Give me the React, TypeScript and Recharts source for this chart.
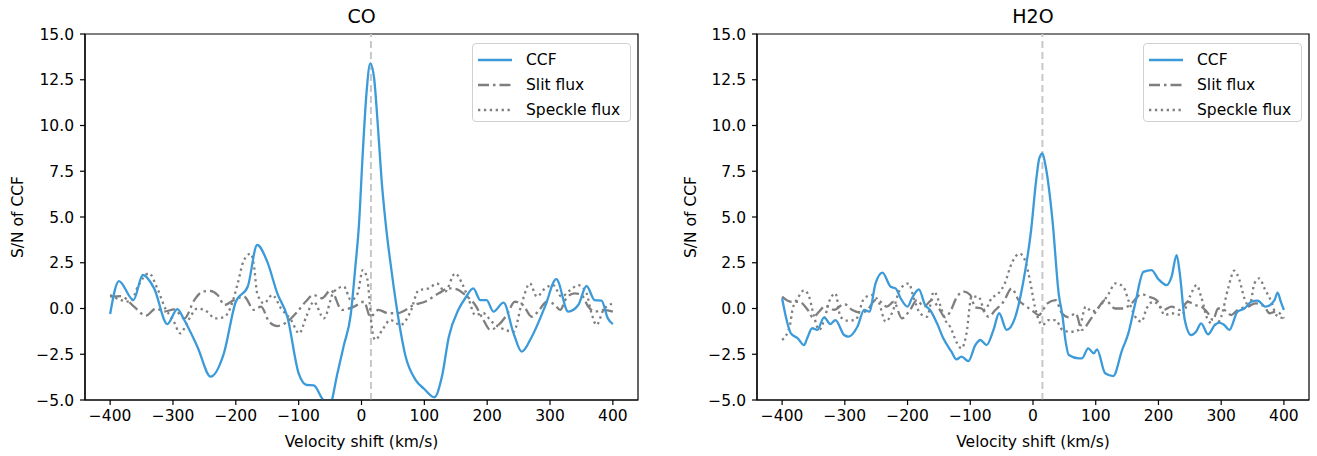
import React from "react";
import { LineChart, Line, XAxis, YAxis, ReferenceLine, ReferenceArea } from "recharts";

// velocity shift (km/s), S/N pairs
const coCcf = [
  [-400, -0.3], [-386, 1.5], [-363, 0.46], [-348, 1.83], [-330, 1.1], [-309, -0.85],
  [-293, -0.03], [-282, -0.63], [-261, -2.1], [-240, -3.72], [-219, -2.45], [-200, 0.37],
  [-181, 1.2], [-166, 3.47], [-150, 2.56], [-134, 0.83], [-118, -0.45], [-100, -3.54],
  [-87, -4.18], [-76, -4.2], [-63, -4.9], [-52, -5.4], [-38, -3.5], [-28, -2.0],
  [-17, -0.3], [-10, 2.2], [-4, 4.6], [2, 8.5], [8, 11.8], [14, 13.4], [20, 12.6],
  [26, 10], [32, 7], [38, 4.8], [48, 2], [59, -0.6], [70, -2.6], [86, -3.9], [100, -4.4],
  [116, -4.85], [128, -3.72], [139, -1.54], [154, -0.08], [165, 0.56], [178, 1.1],
  [189, 0.46], [199, 0.46], [210, -0.17], [226, 0.32], [242, -1.36], [255, -2.36],
  [271, -1.54], [292, 0.1], [310, 1.6], [329, -0.17], [345, 0.19], [358, 1.23],
  [371, 0.46], [382, 0.43], [392, -0.54], [400, -0.85],
];

const coSlit = [
  [-400, 0.65], [-383, 0.68], [-362, 0.1], [-343, -0.39], [-327, 0], [-314, -0.17],
  [-298, -0.05], [-282, -0.54], [-266, 0.46], [-253, 0.92], [-242, 0.96], [-229, 0.74],
  [-218, 0.19], [-203, 0.46], [-187, 0.65], [-171, -0.08], [-160, 0.1], [-147, -0.72],
  [-134, -0.96], [-118, -0.72], [-102, -0.17], [-89, 0.37], [-76, 0.74], [-63, 0.56],
  [-49, 1.0], [-31, -0.08], [-12, 0.1], [4, 0.37], [14, -0.45], [27, -0.08], [43, -0.26],
  [57, -0.26], [70, -0.08], [83, 0.19], [101, 0.37], [123, 0.83], [139, 1.1], [152, 1.05],
  [165, 0.74], [181, 0.19], [194, -0.63], [205, -1.17], [218, -0.9], [231, -0.36],
  [244, 0.37], [257, 0.19], [271, -0.45], [281, -0.17], [295, 0.37], [308, 0.19],
  [316, -0.08], [326, 0.56], [339, 0.83], [350, 0.74], [361, 0.1], [371, -0.17],
  [385, -0.08], [400, -0.17],
];

const coSpeckle = [
  [-400, 0.74], [-383, 0.46], [-367, 0.37], [-356, 1.19], [-338, 1.92], [-325, 1.1],
  [-311, -0.08], [-301, -0.54], [-288, -1.36], [-277, -0.72], [-261, 0], [-246, -0.17],
  [-233, -0.54], [-219, -0.48], [-206, 0.28], [-197, 1.37], [-187, 2.65], [-176, 3.0],
  [-171, 2.3], [-166, 0.83], [-155, 0.28], [-142, 0.74], [-128, 0], [-112, -0.63],
  [-99, -1.36], [-88, -0.45], [-76, 0.37], [-60, -0.54], [-44, 0.92], [-28, 1.2],
  [-17, 0.46], [-6, 0.83], [2, 2.1], [9, 1.65], [17, -1.17], [22, -1.72], [33, -1.17],
  [46, -0.63], [62, -0.9], [78, -0.17], [91, 1.0], [107, 1.1], [120, 1.37], [133, 0.92],
  [149, 1.92], [160, 1.37], [170, 0.56], [181, -0.36], [194, -0.26], [207, -0.72],
  [223, -1.08], [242, -1.27], [255, 0.28], [268, 1.37], [279, 0.65], [292, 1.1],
  [305, 1.28], [318, 0.65], [332, 1.0], [345, 1.28], [358, 0.83], [366, -0.26],
  [374, -0.9], [385, -0.08], [400, 0.28],
];

const h2oCcf = [
  [-400, 0.56], [-394, -0.45], [-386, -1.36], [-375, -1.63], [-365, -2.0], [-360, -1.63],
  [-352, -1.08], [-344, -1.17], [-333, -0.48], [-323, -0.85], [-315, -0.63], [-301, -1.45],
  [-294, -1.54], [-280, -1.0], [-269, -0.08], [-261, -0.17], [-251, 1.37], [-240, 1.96],
  [-227, 1.19], [-219, 1.1], [-211, 0.56], [-200, 0.1], [-193, 0.56], [-182, 1.05],
  [-172, 0.19], [-164, -0.08], [-153, -0.81], [-143, -1.63], [-130, -2.36], [-122, -2.78],
  [-114, -2.63], [-103, -2.87], [-92, -2.0], [-84, -1.72], [-74, -2.0], [-63, -1.17],
  [-54, -0.26], [-42, -1.17], [-29, -0.54], [-16, 1.37], [-3, 4.29], [5, 7], [10, 8.2],
  [15, 8.48], [20, 7.8], [31, 4.84], [41, 0.8], [47, -0.4], [52, -1.8], [57, -2.54],
  [73, -2.72], [78, -2.72], [88, -2.18], [97, -2.45], [102, -2.23], [115, -3.54],
  [128, -3.69], [142, -2.27], [152, -1.36], [163, 0.28], [176, 2.0], [189, 2.1],
  [200, 1.6], [213, 1.28], [221, 1.74], [229, 2.92], [234, 1.92], [242, -0.63],
  [252, -1.45], [260, -1.27], [268, -0.81], [279, -1.41], [290, -0.9], [297, -0.77],
  [305, -0.9], [313, -1.17], [326, -0.17], [337, 0], [348, 0.37], [358, 0.43],
  [371, 0.1], [385, 0.46], [390, 0.87], [395, 0.37], [400, -0.08],
];

const h2oSlit = [
  [-400, 0.65], [-386, 0.37], [-373, 0.37], [-359, -0.08], [-351, -0.48], [-341, -0.17],
  [-331, 0.14], [-317, -0.08], [-301, 0.25], [-288, -0.08], [-275, -0.23], [-264, -0.08],
  [-251, 0.46], [-243, 0.37], [-233, 0.1], [-222, 0.37], [-209, -0.54], [-196, -0.08],
  [-185, 0.46], [-174, 0.1], [-161, 0.46], [-150, 0], [-140, -0.48], [-132, -0.17],
  [-121, 0.65], [-110, 0.92], [-100, 0.74], [-92, 0.06], [-82, 0], [-71, -0.45],
  [-60, -0.08], [-47, 0.37], [-34, 1.1], [-23, 0.46], [-10, 0.1], [0, -0.15],
  [9, -0.36], [23, 0.28], [36, 0.46], [46, -0.26], [57, -0.48], [68, -0.26], [78, -1.17],
  [91, -0.63], [102, -0.08], [115, 0.46], [131, 0], [144, 0], [157, 0.28], [173, 0.79],
  [184, 0.65], [197, 0.46], [208, -0.08], [221, 0.1], [234, -0.08], [247, 0.37],
  [258, 0.19], [268, 0.1], [279, -0.26], [287, -0.63], [295, 0], [305, -0.08],
  [316, -0.36], [326, -0.08], [342, 0.1], [355, 0.28], [369, 0.1], [377, -0.26],
  [388, -0.17], [400, -0.54],
];

const h2oSpeckle = [
  [-400, -1.72], [-388, -1.0], [-383, 0], [-375, 0.56], [-365, 1.0], [-357, 0.65],
  [-349, -0.45], [-341, -1.17], [-333, -0.63], [-325, 0.37], [-315, 0.83], [-307, -0.45],
  [-296, -0.66], [-283, -0.63], [-269, 0.56], [-256, 0.74], [-246, 0.37], [-235, -0.72],
  [-225, -0.26], [-211, 1.1], [-198, 1.37], [-190, 0.56], [-180, -0.26], [-169, -0.45],
  [-158, 0.92], [-148, 0.19], [-140, -0.63], [-132, -1.0], [-121, -1.9], [-114, -2.18],
  [-106, -1.36], [-98, 0.65], [-87, 0.65], [-77, -0.08], [-66, 0.56], [-55, 0.83],
  [-45, 1.37], [-34, 2.47], [-21, 3.0], [-13, 2.65], [-5, 1.56], [3, 0.1], [15, -0.9],
  [25, -0.63], [36, -0.63], [47, -1.17], [60, -1.27], [73, -1.17], [84, 0.1], [94, -0.17],
  [108, 0.19], [121, 0.83], [131, 1.37], [144, 1.19], [152, 0.46], [163, -0.45],
  [173, -0.72], [181, 0], [192, 0.37], [202, 0.1], [210, -0.36], [221, -0.26],
  [237, -0.36], [250, 0.65], [261, 1.28], [268, 0.65], [279, -0.63], [290, -0.9],
  [300, -0.45], [311, 1.1], [321, 2.07], [329, 1.56], [337, 0.56], [345, 0.1],
  [353, 1.37], [361, 1.65], [369, 1.1], [380, 0.37], [388, -0.36], [400, -0.54],
];

const xTicks = [-400, -300, -200, -100, 0, 100, 200, 300, 400];
const yTicks = [-5, -2.5, 0, 2.5, 5, 7.5, 10, 12.5, 15];
const seriesNames = ["CCF", "Slit flux", "Speckle flux"];
const peakVelocity = 15;

const FONT = "'DejaVu Sans', sans-serif";
const FS = 15.5;
const BLUE = "#3b9ad9";
const GRAY = "#7f7f7f";
const SLIT_DASH = "11 4 2.5 4";
const SPECKLE_DASH = "2.3 3.6";

const minus = (s: string) => s.replace("-", "\u2212");
const fmtX = (v: number) => minus(String(v));
const fmtY = (v: number) => minus(v.toFixed(1));
const toRows = (arr: number[][]) => arr.map(([v, s]) => ({ v, s }));

function XLabel(props: any) {
  const vb = props.viewBox;
  return (
    <text x={vb.x + vb.width / 2} y={441.7} dy="0.35em" textAnchor="middle"
      fontFamily={FONT} fontSize={FS} fill="#000">
      Velocity shift (km/s)
    </text>
  );
}

function YLabel(props: any) {
  const vb = props.viewBox;
  const x = props.lx;
  const y = vb.y + vb.height / 2;
  return (
    <text x={x} y={y} dy="0.35em" textAnchor="middle" transform={`rotate(-90 ${x} ${y})`}
      fontFamily={FONT} fontSize={FS} fill="#000">
      S/N of CCF
    </text>
  );
}

function LegendBox({ left }: { left: number }) {
  const rows = [
    { name: seriesNames[0], dash: undefined, color: BLUE },
    { name: seriesNames[1], dash: SLIT_DASH, color: GRAY },
    { name: seriesNames[2], dash: SPECKLE_DASH, color: GRAY },
  ];
  return (
    <div style={{
      position: "absolute", left, top: 43, width: 157, height: 77,
      border: "1px solid #d0d0d0", borderRadius: 4, background: "rgba(255,255,255,0.8)",
      fontFamily: FONT, fontSize: FS, color: "#000",
    }}>
      {rows.map((r, i) => (
        <div key={r.name} style={{ position: "absolute", left: 4, top: 4 + i * 24.8, height: 24, display: "flex", alignItems: "center" }}>
          <svg width={36} height={10} style={{ marginRight: 13 }}>
            <line x1={1} y1={5} x2={35} y2={5} stroke={r.color} strokeWidth={2.3} strokeDasharray={r.dash} />
          </svg>
          <span>{r.name}</span>
        </div>
      ))}
    </div>
  );
}

function Panel({ title, ccf, slit, speckle, left, width, yw, mr, legendLeft, ylx }: any) {
  const plotL = yw;
  const plotR = width - mr;
  return (
    <div style={{ position: "absolute", left, top: 0, width, height: 456 }}>
      <div style={{
        position: "absolute", top: 4, left: plotL, width: plotR - plotL, textAlign: "center",
        fontFamily: FONT, fontSize: 19, color: "#000", lineHeight: "24px",
      }}>{title}</div>
      <LineChart width={width} height={456} margin={{ top: 34, right: mr, bottom: 26, left: 0 }}>
        <XAxis dataKey="v" type="number" domain={[-440, 440]} ticks={xTicks} allowDataOverflow
          tickFormatter={fmtX} height={30} tickSize={5} tickMargin={5} stroke="#000" strokeWidth={1.2}
          tick={{ fill: "#000", fontSize: FS, fontFamily: FONT }} label={<XLabel />} />
        <YAxis type="number" domain={[-5, 15]} ticks={yTicks} allowDataOverflow width={yw}
          tickFormatter={fmtY} tickSize={5} tickMargin={6} stroke="#000" strokeWidth={1.2}
          tick={{ fill: "#000", fontSize: FS, fontFamily: FONT }} label={<YLabel lx={ylx} />} />
        <ReferenceArea x1={-440} x2={440} y1={-5} y2={15} fill="none" stroke="#000" strokeWidth={1.2} />
        <ReferenceLine x={peakVelocity} stroke="#c8c8c8" strokeWidth={2} strokeDasharray="7 4" />
        <Line data={toRows(speckle)} dataKey="s" type="monotone" stroke={GRAY} strokeWidth={2.3}
          strokeDasharray={SPECKLE_DASH} dot={false} isAnimationActive={false} />
        <Line data={toRows(slit)} dataKey="s" type="monotone" stroke={GRAY} strokeWidth={2.3}
          strokeDasharray={SLIT_DASH} dot={false} isAnimationActive={false} />
        <Line data={toRows(ccf)} dataKey="s" type="monotone" stroke={BLUE} strokeWidth={2.3}
          dot={false} isAnimationActive={false} />
      </LineChart>
      <LegendBox left={legendLeft} />
    </div>
  );
}

export default function App() {
  return (
    <div style={{ position: "absolute", left: 0, top: 0, width: 1317, height: 456, background: "#fff" }}>
      <Panel title="CO" ccf={coCcf} slit={coSlit} speckle={coSpeckle}
        left={0} width={660} yw={85} mr={22} legendLeft={472} ylx={18} />
      <Panel title="H2O" ccf={h2oCcf} slit={h2oSlit} speckle={h2oSpeckle}
        left={660} width={657} yw={97} mr={8} legendLeft={483} ylx={31} />
    </div>
  );
}
